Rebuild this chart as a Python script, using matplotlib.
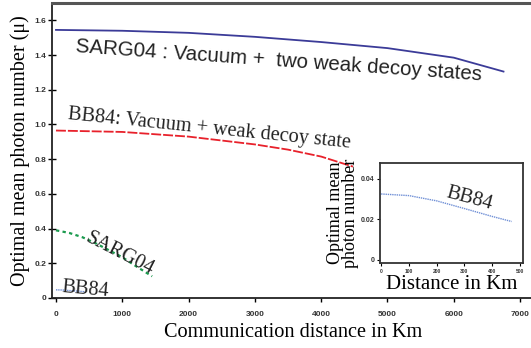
import matplotlib
matplotlib.use("Agg")
import matplotlib.pyplot as plt

# main plot data (distance in km, optimal mean photon number)
sarg_decoy_x = [0, 1000, 2000, 3000, 4000, 5000, 6000, 6750]
sarg_decoy_y = [1.545, 1.54, 1.528, 1.505, 1.475, 1.44, 1.385, 1.305]

bb84_decoy_x = [0, 1000, 2000, 3000, 3500, 4000, 4480]
bb84_decoy_y = [0.965, 0.957, 0.93, 0.885, 0.855, 0.815, 0.757]

sarg_x = [0, 200, 400, 600, 800, 1000, 1200, 1450]
sarg_y = [0.39, 0.375, 0.35, 0.315, 0.275, 0.235, 0.185, 0.125]

bb84_x = [0, 100, 200, 300, 440]
bb84_y = [0.047, 0.046, 0.043, 0.040, 0.036]

# inset data
inset_x = [0, 100, 200, 300, 400, 470]
inset_y = [0.0326, 0.0318, 0.0292, 0.0254, 0.0215, 0.0190]

main_xticks = [0, 1000, 2000, 3000, 4000, 5000, 6000, 7000]
main_yticks = [0, 0.2, 0.4, 0.6, 0.8, 1.0, 1.2, 1.4, 1.6]
main_yticklabels = ["0", "0.2", "0.4", "0.6", "0.8", "1.0", "1.2", "1.4", "1.6"]
inset_xticks = [0, 100, 200, 300, 400, 500]
inset_yticks = [0, 0.02, 0.04]
inset_yticklabels = ["0", "0.02", "0.04"]

W, H = 531, 348
fig = plt.figure(figsize=(W / 100, H / 100), dpi=100)

serif = "Liberation Serif"
sans = "Liberation Sans"
ink = "#222222"

# main axes
ax = fig.add_axes([52 / W, (H - 298) / H, (534 - 52) / W, (298 - 3) / H])
ax.plot(sarg_decoy_x, sarg_decoy_y, color="#3b3b98", lw=1.3)
ax.plot(bb84_decoy_x, bb84_decoy_y, color="#e8212b", lw=1.3, dashes=(5.5, 1.1))
ax.plot(sarg_x, sarg_y, color="#1b9a4e", lw=1.6, ls=(0, (1.5, 1.5)))
ax.plot(bb84_x, bb84_y, color="#6f8fd6", lw=1.0, ls=(0, (1, 0.6)))

ax.set_xlim(-60, 7210)
ax.set_ylim(0, 1.70)
ax.set_xticks(main_xticks)
ax.set_xticklabels([str(t) for t in main_xticks], fontsize=6, family=sans,
                   fontweight="bold", color="#333333")
ax.set_yticks(main_yticks)
ax.set_yticklabels(main_yticklabels, fontsize=6, family=sans,
                   fontweight="bold", color="#333333")
ax.tick_params(axis="x", direction="out", length=3, width=1, pad=6)
ax.tick_params(axis="y", direction="inout", length=6, width=1, pad=1)
for s in ["left", "bottom"]:
    ax.spines[s].set_linewidth(1.3)
    ax.spines[s].set_color(ink)
ax.spines["top"].set_linewidth(2.2)
ax.spines["top"].set_color("#555555")
ax.spines["right"].set_visible(False)

ax.set_xlabel("Communication distance in Km", family=serif, fontsize=14.6, labelpad=4)
ax.set_ylabel("Optimal mean photon number (\u03bc)", family=serif, fontsize=14.5, labelpad=3)

ax.text(285, 1.42, "SARG04 : Vacuum +  two weak decoy states", family=sans,
        fontsize=14.8, rotation=-4, rotation_mode="anchor", color=ink)
ax.text(175, 1.03, "BB84: Vacuum + weak decoy state", family=serif,
        fontsize=14.6, rotation=-5.8, rotation_mode="anchor", color=ink)
ax.text(430, 0.33, "SARG04", family=serif, fontsize=14.6, rotation=-27,
        rotation_mode="anchor", color=ink)
ax.text(80, 0.035, "BB84", family=serif, fontsize=14.6, rotation=-5,
        rotation_mode="anchor", color=ink)

# inset
ins = fig.add_axes([380 / W, (H - 263) / H, (523 - 380) / W, (263 - 163) / H])
ins.plot(inset_x, inset_y, color="#6f8fd6", lw=1.0, ls=(0, (1, 0.6)))
ins.set_xlim(-4, 511)
ins.set_ylim(-0.0015, 0.0479)
ins.set_xticks(inset_xticks)
ins.set_xticklabels([str(t) for t in inset_xticks], fontsize=3.5, family=sans,
                    fontweight="bold", color="#333333")
ins.set_yticks(inset_yticks)
ins.set_yticklabels(inset_yticklabels, fontsize=5, family=sans,
                    fontweight="bold", color="#333333")
ins.tick_params(axis="both", direction="out", length=2, width=0.8, pad=2)
for s in ins.spines.values():
    s.set_linewidth(1.3)
    s.set_color("#333333")
ins.set_xlabel("Distance in Km", family=serif, fontsize=15, labelpad=1)
ins.set_ylabel("Optimal mean\nphoton number", family=serif, fontsize=13,
               labelpad=1, linespacing=0.85)
ins.text(230, 0.0311, "BB84", family=serif, fontsize=14.6, rotation=-15,
         rotation_mode="anchor", color=ink)

fig.savefig("out.png", dpi=100)
